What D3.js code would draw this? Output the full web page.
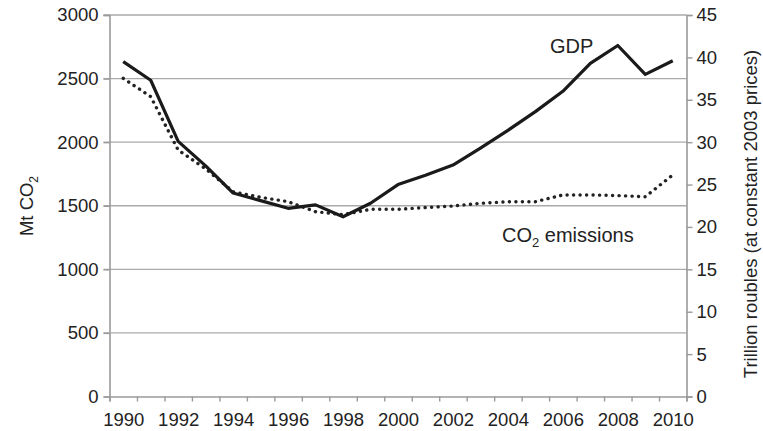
<!DOCTYPE html>
<html><head><meta charset="utf-8">
<script src="https://cdn.jsdelivr.net/npm/d3@7"></script>
<style>
html,body{margin:0;padding:0;background:#fff;}
svg{display:block;font-family:"Liberation Sans",Arial,sans-serif;}
</style></head>
<body><svg id="c" width="763" height="431"></svg>
<script>
const years = d3.range(1990, 2011);
const gdp = [39.5,37.3,30.1,27.2,24.0,23.1,22.2,22.6,21.2,22.8,25.0,26.1,27.3,29.3,31.4,33.6,36.0,39.3,41.4,38.0,39.6];
const co2 = [2502,2358,1938,1790,1610,1566,1532,1453,1430,1472,1472,1486,1498,1519,1532,1532,1585,1585,1580,1571,1742];
const leftTicks = [0,500,1000,1500,2000,2500,3000];
const rightTicks = [0,5,10,15,20,25,30,35,40,45];
const xLabels = d3.range(1990, 2011, 2);

const svg = d3.select("#c");
const L = 109.5, R = 686.5, T = 15, B = 396.5;
const x = d3.scaleLinear().domain([1989.5, 2010.5]).range([L, R]);
const yL = d3.scaleLinear().domain([0, 3000]).range([B, T]);
const yR = d3.scaleLinear().domain([0, 45]).range([B, T]);
const axisCol = "#9a9a9a", fs = "18.5px";

// gridlines
svg.append("g").selectAll("line").data(leftTicks.filter(d=>d>0)).join("line")
  .attr("x1", L-6).attr("x2", R).attr("y1", d=>yL(d)).attr("y2", d=>yL(d))
  .attr("stroke", "#aaa").attr("stroke-width", 1.4);

// left axis
const gl = svg.append("g").attr("transform", `translate(${L},0)`)
  .call(d3.axisLeft(yL).tickValues(leftTicks).tickSize(6).tickPadding(5).tickFormat(d3.format("d")));
// right axis
const gr = svg.append("g").attr("transform", `translate(${R},0)`)
  .call(d3.axisRight(yR).tickValues(rightTicks).tickSize(6).tickPadding(4).tickFormat(d3.format("d")));
// bottom axis ticks
const gb = svg.append("g").attr("transform", `translate(0,${B})`)
  .call(d3.axisBottom(x).tickValues(d3.range(1989.5, 2011, 1)).tickSize(5).tickFormat(""));
const gb2 = svg.append("g").attr("transform", `translate(0,${B})`)
  .call(d3.axisBottom(x).tickValues(xLabels).tickSize(0).tickPadding(16).tickFormat(d3.format("d")));
gb2.select(".domain").remove();

[gl, gr, gb].forEach(g => {
  g.select(".domain").attr("stroke", axisCol).attr("stroke-width", 1.6);
  g.selectAll(".tick line").attr("stroke", axisCol).attr("stroke-width", 1.4);
});
[gl, gr, gb, gb2].forEach(g => g.selectAll("text").attr("font-size", fs).attr("fill", "#222")
  .attr("font-family", '"Liberation Sans",Arial,sans-serif'));

// lines
svg.append("path").datum(co2.map((v,i)=>[years[i], v]))
  .attr("d", d3.line().x(d=>x(d[0])).y(d=>yL(d[1])))
  .attr("fill", "none").attr("stroke", "#222").attr("stroke-width", 3.4)
  .attr("stroke-linecap", "round").attr("stroke-dasharray", "0.1 6.4");
svg.append("path").datum(gdp.map((v,i)=>[years[i], v]))
  .attr("d", d3.line().x(d=>x(d[0])).y(d=>yR(d[1])))
  .attr("fill", "none").attr("stroke", "#1a1a1a").attr("stroke-width", 3.2)
  .attr("stroke-linejoin", "round");

// annotations
svg.append("text").attr("x", 550).attr("y", 53).attr("font-size", "20px").attr("fill", "#222").text("GDP");
const ce = svg.append("text").attr("x", 502).attr("y", 242).attr("font-size", "20px").attr("fill", "#222");
ce.append("tspan").text("CO");
ce.append("tspan").attr("font-size", "13px").attr("dy", 5).text("2");
ce.append("tspan").attr("dy", -5).text(" emissions");

// axis titles
const lt = svg.append("text").attr("transform", `translate(33,206) rotate(-90)`)
  .attr("text-anchor", "middle").attr("font-size", fs).attr("fill", "#222");
lt.append("tspan").text("Mt CO");
lt.append("tspan").attr("font-size", "12px").attr("dy", 5).text("2");
svg.append("text").attr("transform", `translate(757,214) rotate(-90)`)
  .attr("text-anchor", "middle").attr("font-size", fs).attr("fill", "#222")
  .text("Trillion roubles (at constant 2003 prices)");
</script></body></html>
